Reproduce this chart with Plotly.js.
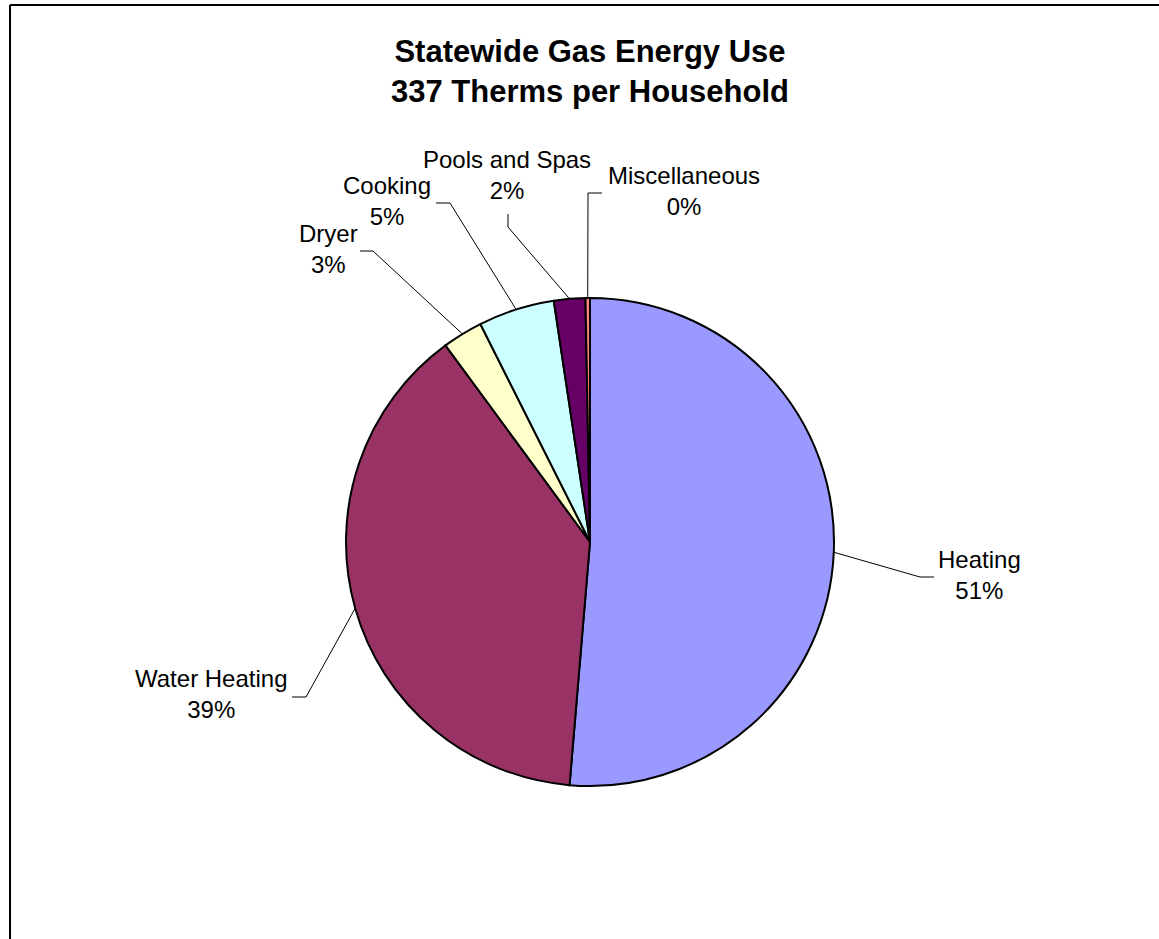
<!DOCTYPE html>
<html>
<head>
<meta charset="utf-8">
<script src="https://cdn.plot.ly/plotly-3.0.1.min.js"></script>
<style>
  html, body { margin: 0; padding: 0; background: #fff; }
  #chart { width: 1159px; height: 939px; }
</style>
</head>
<body>
<div id="chart"></div>
<script>
// Household gas end uses (therms per household, statewide average)
const categories = ['Heating', 'Water Heating', 'Dryer', 'Cooking', 'Pools and Spas', 'Miscellaneous'];
const therms = [173, 130, 9, 17, 7, 1];
const sliceColors = ['#9999FF', '#993366', '#FFFFCC', '#CCFFFF', '#660066', '#FF8080'];

const W = 1159, H = 939;
const FONT = 'Liberation Sans, Arial, sans-serif';

// Pie placement in pixels
const pie = { cx: 590, cy: 542, r: 244 };

// Label anchors (pixels) and leader-line elbows/ends for each category
const labelPlacement = {
  'Heating':        { x: 979, y: 575, elbow: [920, 577], end: [934, 577] },
  'Water Heating':  { x: 211, y: 694, elbow: [306, 697], end: [292, 697] },
  'Dryer':          { x: 328, y: 249, elbow: [373, 251], end: [360, 251] },
  'Cooking':        { x: 387, y: 201, elbow: [450, 203], end: [436, 203] },
  'Pools and Spas': { x: 507, y: 175, elbow: [508, 227], end: [508, 214] },
  'Miscellaneous':  { x: 684, y: 191, elbow: [588, 193], end: [602, 193] }
};

const px = x => x / W;
const py = y => 1 - y / H;

const total = therms.reduce((a, b) => a + b, 0);

const trace = {
  type: 'pie',
  labels: categories,
  values: therms,
  sort: false,
  direction: 'clockwise',
  rotation: 0,
  textinfo: 'none',
  hoverinfo: 'skip',
  showlegend: false,
  marker: { colors: sliceColors, line: { color: '#000000', width: 2 } },
  domain: {
    x: [px(pie.cx - pie.r), px(pie.cx + pie.r)],
    y: [py(pie.cy + pie.r), py(pie.cy - pie.r)]
  }
};

const annotations = [];
const shapes = [];
let cum = 0;
categories.forEach((name, i) => {
  const v = therms[i];
  const midFrac = (cum + v / 2) / total;
  cum += v;
  const ang = midFrac * 2 * Math.PI;
  const sx = pie.cx + pie.r * Math.sin(ang);
  const sy = pie.cy - pie.r * Math.cos(ang);
  const lp = labelPlacement[name];
  const pct = Math.round(v / total * 100) + '%';
  annotations.push({
    xref: 'paper', yref: 'paper',
    x: px(lp.x), y: py(lp.y),
    xanchor: 'center', yanchor: 'middle',
    text: name + '<br>' + pct,
    showarrow: false,
    align: 'center',
    font: { family: FONT, size: 24, color: '#000000' }
  });
  shapes.push({
    type: 'path', xref: 'paper', yref: 'paper',
    path: 'M' + px(sx) + ',' + py(sy) +
          ' L' + px(lp.elbow[0]) + ',' + py(lp.elbow[1]) +
          ' L' + px(lp.end[0]) + ',' + py(lp.end[1]),
    line: { color: '#000000', width: 1 }
  });
});

// Chart-area frame (top and left edges)
shapes.push({ type: 'line', xref: 'paper', yref: 'paper',
  x0: px(10), y0: py(5), x1: px(W), y1: py(5), line: { color: '#000000', width: 2 } });
shapes.push({ type: 'line', xref: 'paper', yref: 'paper',
  x0: px(10), y0: py(5), x1: px(10), y1: py(H), line: { color: '#000000', width: 2 } });

const layout = {
  width: W, height: H,
  margin: { l: 0, r: 0, t: 0, b: 0 },
  paper_bgcolor: '#ffffff',
  plot_bgcolor: '#ffffff',
  title: {
    text: '<b>Statewide Gas Energy Use<br>' + total + ' Therms per Household</b>',
    x: px(590), xref: 'paper', xanchor: 'center',
    y: py(62), yref: 'container', yanchor: 'middle',
    font: { family: FONT, size: 31, color: '#000000' }
  },
  annotations: annotations,
  shapes: shapes
};

Plotly.newPlot('chart', [trace], layout, { staticPlot: true, displayModeBar: false });
</script>
</body>
</html>
